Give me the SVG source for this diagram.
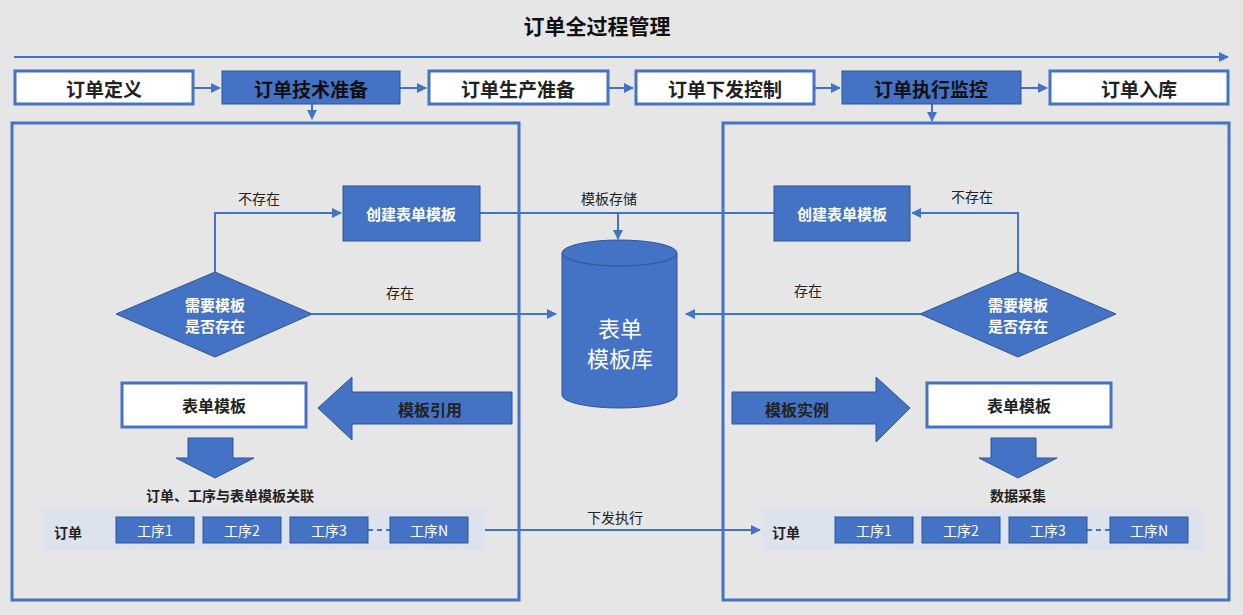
<svg xmlns="http://www.w3.org/2000/svg" width="1243" height="615" viewBox="0 0 1243 615">
<style>
text{font-family:"Noto Sans CJK SC","Liberation Sans",sans-serif;text-anchor:middle;dominant-baseline:central}
.w{fill:#fff;stroke:#4472c4;stroke-width:3}
.f{fill:#4472c4;stroke:#2f5597;stroke-width:1}
.t{font-size:19px;font-weight:bold;fill:#222}
.tw{font-size:19px;font-weight:bold;fill:#111}
.s{font-size:15px;font-weight:bold;fill:#fff}
.l{font-size:14px;fill:#222}
.p{font-size:14px;fill:#fff}
.ln{fill:none;stroke:#4472c4;stroke-width:2}
</style>
<defs><marker id="a" viewBox="0 0 10 10" refX="9" refY="5" markerWidth="5" markerHeight="5" orient="auto"><path d="M0,0L10,5L0,10z" fill="#4472c4"/></marker></defs>
<rect width="1243" height="615" fill="#e6e6e6"/>
<text x="597" y="25" style="font-size:21px;font-weight:bold" fill="#111">订单全过程管理</text>
<g id="connectors">
<line class="ln" x1="14" y1="57" x2="1228" y2="57" marker-end="url(#a)"/>
<line class="ln" x1="193" y1="88" x2="220" y2="88" marker-end="url(#a)"/>
<line class="ln" x1="400" y1="88" x2="426" y2="88" marker-end="url(#a)"/>
<line class="ln" x1="608" y1="88" x2="633" y2="88" marker-end="url(#a)"/>
<line class="ln" x1="814" y1="88" x2="840" y2="88" marker-end="url(#a)"/>
<line class="ln" x1="1021" y1="88" x2="1047" y2="88" marker-end="url(#a)"/>
<line class="ln" x1="312" y1="104" x2="312" y2="119" marker-end="url(#a)"/>
<line class="ln" x1="932" y1="104" x2="932" y2="121" marker-end="url(#a)"/>
<polyline class="ln" points="215,272 215,213 341,213" marker-end="url(#a)"/>
<line class="ln" x1="480" y1="213" x2="774" y2="213"/>
<line class="ln" x1="618" y1="213" x2="618" y2="239" marker-end="url(#a)"/>
<line class="ln" x1="312" y1="314" x2="556" y2="314" marker-end="url(#a)"/>
<line class="ln" x1="920" y1="314" x2="686" y2="314" marker-end="url(#a)"/>
<polyline class="ln" points="1018,272 1018,213 912,213" marker-end="url(#a)"/>
<line class="ln" x1="485" y1="530" x2="760" y2="530" marker-end="url(#a)"/>
</g>
<text x="259" y="198" class="l">不存在</text>
<text x="609" y="198" class="l">模板存储</text>
<text x="400" y="292" class="l">存在</text>
<text x="808" y="290" class="l">存在</text>
<text x="972" y="196" class="l">不存在</text>
<text x="615" y="517" class="l">下发执行</text>
<g id="n1"><rect class="w" x="15" y="71" width="178" height="33"/><text x="104" y="88" class="t">订单定义</text></g>
<g id="n2"><rect class="f" x="222" y="71" width="178" height="33"/><text x="311" y="88" class="tw">订单技术准备</text></g>
<g id="n3"><rect class="w" x="429" y="71" width="179" height="33"/><text x="518" y="88" class="t">订单生产准备</text></g>
<g id="n4"><rect class="w" x="636" y="71" width="178" height="33"/><text x="725" y="88" class="t">订单下发控制</text></g>
<g id="n5"><rect class="f" x="842" y="71" width="179" height="33"/><text x="931" y="88" class="tw">订单执行监控</text></g>
<g id="n6"><rect class="w" x="1050" y="71" width="178" height="33"/><text x="1139" y="88" class="t">订单入库</text></g>
<rect x="12" y="123" width="507" height="477" fill="none" stroke="#4472c4" stroke-width="3"/>
<rect x="723" y="123" width="506" height="477" fill="none" stroke="#4472c4" stroke-width="3"/>
<g id="createL"><rect class="f" x="343" y="186" width="137" height="55"/><text x="411" y="213" class="s">创建表单模板</text></g>
<g id="createR"><rect class="f" x="774" y="186" width="136" height="55"/><text x="842" y="213" class="s">创建表单模板</text></g>
<g id="decL"><polygon class="f" points="116,314 215,272 312,314 215,357"/><text x="215" y="304" class="s" fill="#fff">需要模板</text><text x="215" y="325" class="s">是否存在</text></g>
<g id="decR"><polygon class="f" points="920,314 1018,272 1116,314 1018,357"/><text x="1018" y="304" class="s">需要模板</text><text x="1018" y="325" class="s">是否存在</text></g>
<g id="db"><path class="f" d="M562,253 V395 A57.5,13 0 0 0 677,395 V253" /><ellipse class="f" cx="619.5" cy="253" rx="57.5" ry="13"/><text x="620" y="327" style="font-size:22px" fill="#fff">表单</text><text x="620" y="357" style="font-size:22px" fill="#fff">模板库</text></g>
<g id="tplL"><rect class="w" x="122" y="383" width="184" height="44"/><text x="214" y="405" class="l" style="font-size:16px;font-weight:bold">表单模板</text></g>
<g id="tplR"><rect class="w" x="927" y="383" width="184" height="44"/><text x="1019" y="405" class="l" style="font-size:16px;font-weight:bold">表单模板</text></g>
<g id="refArrow"><polygon class="f" points="318,408 352,377 352,392 512,392 512,424 352,424 352,440"/><text x="430" y="409" class="t" style="font-size:16px">模板引用</text></g>
<g id="instArrow"><polygon class="f" points="732,392 876,392 876,377 910,408 876,442 876,424 732,424"/><text x="797" y="409" class="t" style="font-size:16px">模板实例</text></g>
<polygon class="f" points="188,438 233,438 233,458 254,458 215,478 176,458 188,458"/>
<polygon class="f" points="991,438 1036,438 1036,458 1057,458 1018,478 979,458 991,458"/>
<text x="230" y="495" class="l" style="font-weight:bold">订单、工序与表单模板关联</text>
<text x="1018" y="495" class="l" style="font-weight:bold">数据采集</text>
<g id="orderL">
<rect x="42" y="509" width="443" height="41" fill="#dde3ec"/>
<text x="68" y="532" class="l" style="font-weight:bold">订单</text>
<line x1="368" y1="530" x2="390" y2="530" stroke="#4472c4" stroke-width="2" stroke-dasharray="5,4"/>
<rect class="f" x="116" y="517" width="78" height="26"/><text x="155" y="530" class="p">工序1</text>
<rect class="f" x="203" y="517" width="78" height="26"/><text x="242" y="530" class="p">工序2</text>
<rect class="f" x="290" y="517" width="78" height="26"/><text x="329" y="530" class="p">工序3</text>
<rect class="f" x="390" y="517" width="78" height="26"/><text x="429" y="530" class="p">工序N</text>
</g>
<g id="orderR">
<rect x="762" y="509" width="442" height="41" fill="#dde3ec"/>
<text x="786" y="532" class="l" style="font-weight:bold">订单</text>
<line x1="1087" y1="530" x2="1110" y2="530" stroke="#4472c4" stroke-width="2" stroke-dasharray="5,4"/>
<rect class="f" x="835" y="517" width="78" height="26"/><text x="874" y="530" class="p">工序1</text>
<rect class="f" x="922" y="517" width="78" height="26"/><text x="961" y="530" class="p">工序2</text>
<rect class="f" x="1009" y="517" width="78" height="26"/><text x="1048" y="530" class="p">工序3</text>
<rect class="f" x="1110" y="517" width="78" height="26"/><text x="1149" y="530" class="p">工序N</text>
</g>
</svg>
